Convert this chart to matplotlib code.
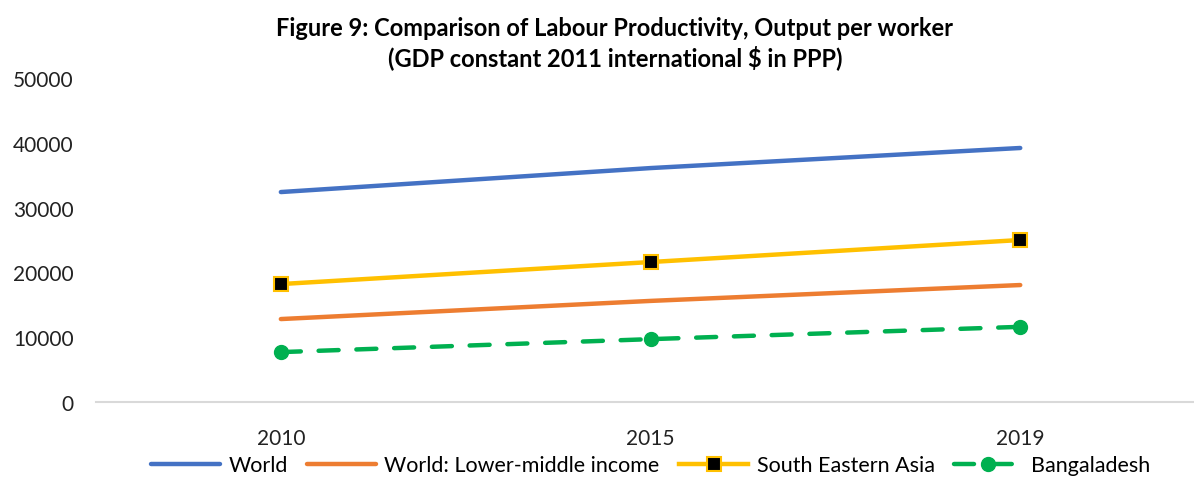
import numpy as np
import matplotlib.pyplot as plt

years = ["2010", "2015", "2019"]
world = [32400, 36100, 39200]
lower_middle = [12800, 15600, 18050]
se_asia = [18200, 21600, 25000]
bangladesh = [7700, 9700, 11600]

plt.rcParams['font.family'] = ['Lato', 'DejaVu Sans']

fig = plt.figure(figsize=(11.94, 4.81), dpi=100)
ax = fig.add_axes([96 / 1194, 78 / 481, 1 - 96 / 1194, 324 / 481])

x = np.arange(len(years))
ax.plot(x, world, color='#4472C4', lw=3.2, solid_capstyle='round', label='World')
ax.plot(x, lower_middle, color='#ED7D31', lw=3.2, solid_capstyle='round',
        label='World: Lower-middle income')
ax.plot(x, se_asia, color='#FFC000', lw=3.2, marker='s', markersize=10,
        markerfacecolor='black', markeredgecolor='#FFC000', markeredgewidth=1.5,
        label='South Eastern Asia')
ax.plot(x, bangladesh, color='#00B050', lw=3.2, ls=(0, (4.5, 4)), dash_capstyle='round',
        marker='o', markersize=10, label='Bangaladesh')

ax.set_xlim(-0.5, 2.47)
ax.set_ylim(0, 50000)
ax.set_yticks(range(0, 50001, 10000))
ax.set_xticks(x)
ax.set_xticklabels(years)
ax.tick_params(length=0, labelsize=15, colors='#222222')
ax.tick_params(axis='x', pad=19)
ax.tick_params(axis='y', pad=16)

for s in ['top', 'right', 'left']:
    ax.spines[s].set_visible(False)
ax.spines['bottom'].set_color('#D9D9D9')
ax.spines['bottom'].set_linewidth(1.5)

fig.text(0.515, 0.91, "Figure 9: Comparison of Labour Productivity, Output per worker\n"
         "(GDP constant 2011 international $ in PPP)",
         ha='center', va='center', fontsize=17, fontweight='bold', linespacing=1.25)

fig.legend(loc='lower center', bbox_to_anchor=(0.545, -0.03), ncol=4, frameon=False,
           fontsize=15.5, handlelength=3.2, columnspacing=0.9, handletextpad=0.4)

fig.savefig('out.png', dpi=100)
